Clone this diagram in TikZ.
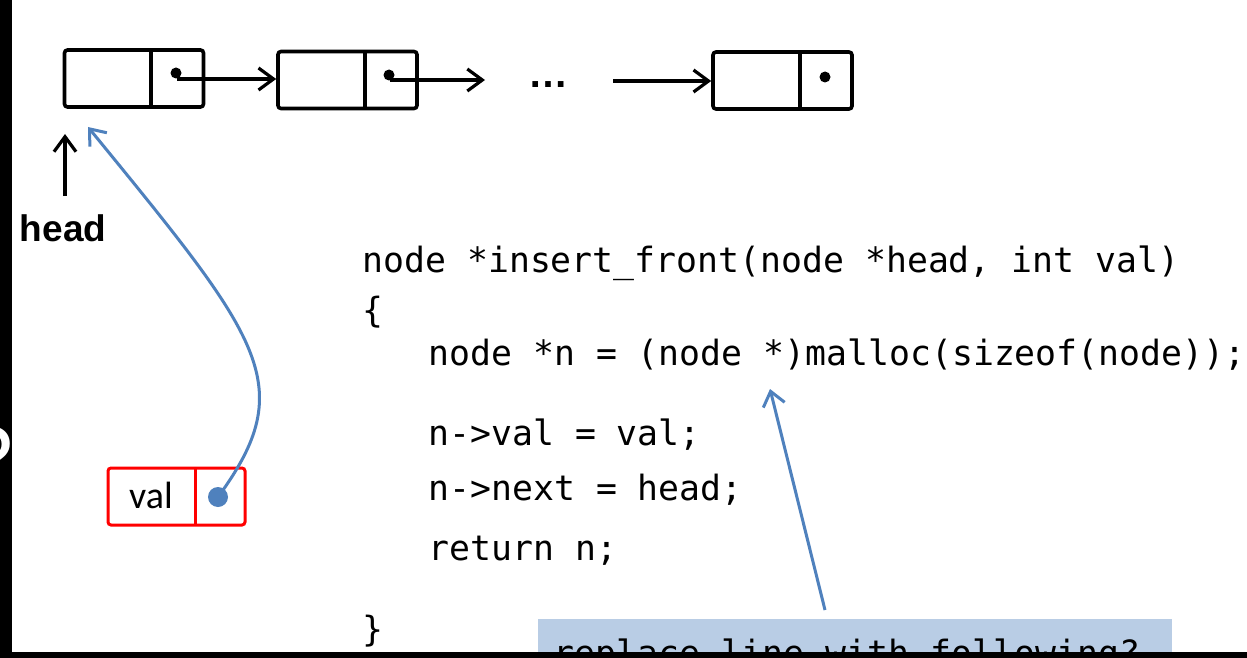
\documentclass[tikz,border=0pt]{standalone}
\usepackage{fontspec}
\setmainfont{Liberation Sans}
\newfontfamily\codefont{DejaVu Sans Mono}
\newfontfamily\calfont{Carlito}
\usetikzlibrary{arrows.meta}
\definecolor{offblue}{HTML}{4F81BD}
\definecolor{hintfill}{HTML}{B9CDE5}
\definecolor{boxred}{HTML}{FF0000}
\begin{document}
\begin{tikzpicture}[x=0.5pt,y=-0.5pt,
  listnode/.style={draw=black, line width=1.8pt, rounded corners=1.5pt, minimum width=69.5pt, minimum height=28.5pt, inner sep=0pt},
  valnode/.style={draw=boxred, line width=1.5pt, rounded corners=1.5pt, minimum width=68.5pt, minimum height=28.5pt, inner sep=0pt},
  divider/.style={line width=1.8pt},
  ptrdot/.style={circle, fill=black, inner sep=0pt, minimum size=5.5pt},
  bluedot/.style={circle, fill=offblue, inner sep=0pt, minimum size=10pt},
  blkarrow/.style={line width=1.6pt, -{Straight Barb[length=7.5pt,width=11pt,line width=1.6pt]}},
  bluearrow/.style={draw=offblue, line width=1.5pt, -{Straight Barb[length=7pt,width=11pt,line width=1.5pt]}},
  code/.style={anchor=base west, inner sep=0pt, font=\codefont\fontsize{17.4pt}{20pt}\selectfont},
]
\useasboundingbox (0,0) rectangle (1247,658);
\fill[white] (0,0) rectangle (1247,658);

% linked list nodes
\node[listnode] (n1) at (134,78.5) {};
\draw[divider] (151,50) -- (151,107);
\node[ptrdot] (d1) at (176,73) {};
\coordinate (s1) at (177,79);

\node[listnode] (n2) at (347.5,80) {};
\draw[divider] (365,52) -- (365,108);
\node[ptrdot] (d2) at (389,75) {};
\coordinate (s2) at (390,80);
\coordinate (e2) at (485,80);

\node[anchor=base, inner sep=0pt, font=\bfseries\fontsize{20pt}{22pt}\selectfont] (dots) at (548,88) {…};
\coordinate (s3) at (613,81);

\node[listnode] (n3) at (782.5,80.5) {};
\draw[divider] (800,52) -- (800,109);
\node[ptrdot] (d3) at (825,77) {};

\draw[blkarrow] (s1) -- (s1 -| n2.west);
\draw[blkarrow] (s2) -- (e2);
\draw[blkarrow] (s3) -- (s3 -| n3.west);

% head
\node[anchor=base, inner sep=0pt, font=\bfseries\fontsize{18.5pt}{22pt}\selectfont] (headlbl) at (63,241) {head};
\coordinate (hs) at (65,196);
\coordinate (ht) at (65,134);
\draw[blkarrow] (hs) -- (ht);

% new node
\node[valnode] (v) at (176.5,496.5) {};
\draw[draw=boxred, line width=1.5pt] (195,468) -- (195,525);
\node[anchor=base, inner sep=0pt, font=\calfont\fontsize{19pt}{22pt}\selectfont] (vallbl) at (151,508) {val};
\node[bluedot] (vd) at (218,497) {};
\coordinate (vt) at (88,127);
\draw[bluearrow] (vd.center) .. controls (300,385) and (262,340) .. (vt);

% code
\node[code] (c1) at (362,272) {node *insert\_front(node *head, int val)};
\node[code] (c2) at (362,322) {\{};
\node[code] (c3) at (428,365) {node *n = (node *)malloc(sizeof(node));};
\node[code] (c4) at (428,445) {n->val = val;};
\node[code] (c5) at (428,500) {n->next = head;};
\node[code] (c6) at (428,560) {return n;};
\node[code] (c7) at (362,641) {\}};

% hint box
\node[fill=hintfill, anchor=north west, minimum width=317pt, minimum height=25pt, inner sep=0pt] (hint) at (538,619) {};
\node[code] (hinttxt) at (553,665) {replace line with following?};
\coordinate (hs2) at (825,610);
\coordinate (ht2) at (770,389);
\draw[bluearrow] (hs2) -- (ht2);

% black frame parts
\fill[black] (0,652) rectangle (1247,658);
\fill[black] (0,0) rectangle (11.5,658);
\begin{scope}
\clip (0,0) rectangle (10.5,658);
\node[anchor=base east, inner sep=0pt, text=white, font=\fontsize{46pt}{50pt}\selectfont] (qmark) at (14,490) {?};
\end{scope}
\end{tikzpicture}
\end{document}
